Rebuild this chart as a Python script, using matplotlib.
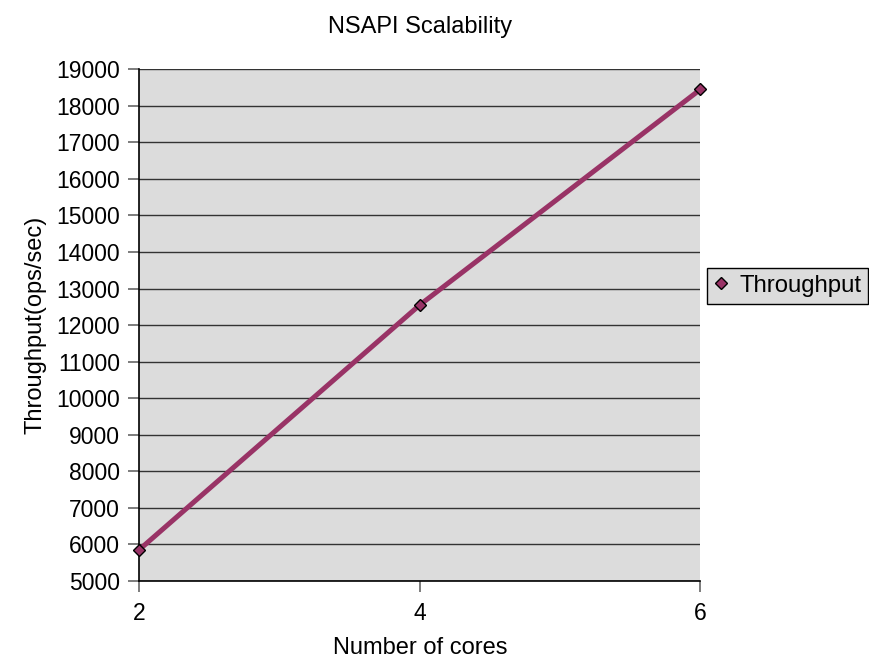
import matplotlib.pyplot as plt

plt.rcParams['font.family'] = ['Liberation Sans', 'DejaVu Sans']

# Throughput measured at each core count
cores = [2, 4, 6]
throughput = [5850, 12550, 18450]
yticks = list(range(5000, 19001, 1000))

fig = plt.figure(figsize=(8.7, 6.6), dpi=100)
ax = fig.add_axes([0.16, 0.12, 0.645, 0.775])
ax.set_facecolor('#dcdcdc')

line, = ax.plot(cores, throughput, color='#993366', linewidth=3.6,
                marker='D', markersize=6.2, markerfacecolor='#993366',
                markeredgecolor='black', markeredgewidth=1.0,
                solid_capstyle='butt', zorder=3, clip_on=False)

ax.set_xlim(2, 6)
ax.set_ylim(5000, 19000)
ax.set_xticks(cores)
ax.set_yticks(yticks)
ax.yaxis.grid(True, color='#333333', linewidth=1.0)
ax.set_axisbelow(True)

for side in ('top', 'right'):
    ax.spines[side].set_visible(False)
ax.spines['left'].set_color('black')
ax.spines['bottom'].set_color('black')
ax.spines['left'].set_linewidth(1.2)
ax.spines['bottom'].set_linewidth(1.2)
ax.tick_params(axis='both', labelsize=16.5, length=8, width=1.2,
               color='#666666', direction='out')
ax.tick_params(axis='y', pad=6)
ax.tick_params(axis='x', pad=7)

ax.set_title('NSAPI Scalability', fontsize=17, pad=26)
ax.set_xlabel('Number of cores', fontsize=17, labelpad=9)
ax.set_ylabel('Throughput(ops/sec)', fontsize=17, labelpad=7)

leg = fig.legend([line], ['Throughput'], loc='center left',
                 bbox_to_anchor=(0.8126, 0.567), fontsize=17.2,
                 frameon=True, fancybox=False, handlelength=0.6,
                 handletextpad=0.45, borderpad=0.3, borderaxespad=0)
leg.get_frame().set_facecolor('#dcdcdc')
leg.get_frame().set_edgecolor('black')
leg.get_frame().set_linewidth(1.0)
leg.get_frame().set_alpha(1)
for h in leg.legend_handles:
    h.set_linestyle('none')

fig.savefig('out.png', dpi=100)
